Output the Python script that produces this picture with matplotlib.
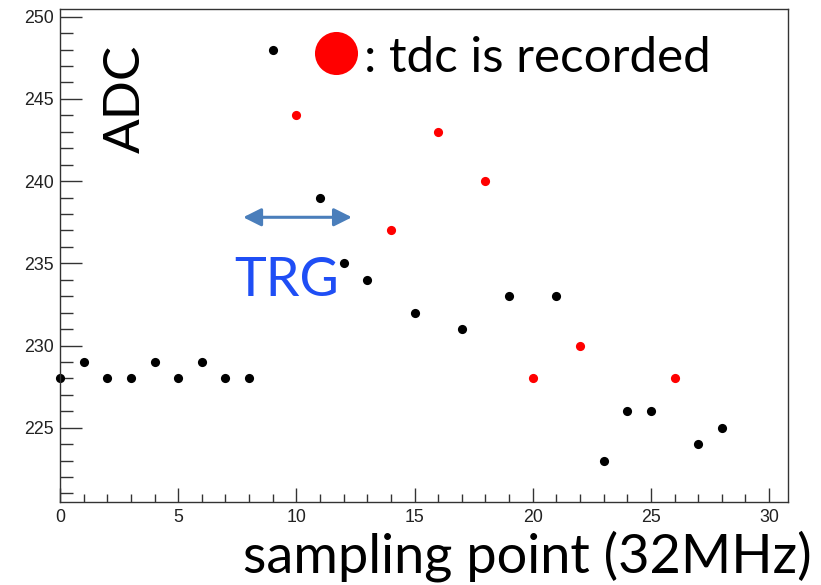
import matplotlib
matplotlib.use("Agg")
import matplotlib.pyplot as plt
from matplotlib.ticker import MultipleLocator

# Data
black_x = [0, 1, 2, 3, 4, 5, 6, 7, 8, 9, 11, 12, 13, 15, 17, 19, 21, 23, 24, 25, 27, 28]
black_y = [228, 229, 228, 228, 229, 228, 229, 228, 228, 248, 239, 235, 234, 232, 231, 233, 233, 223, 226, 226, 224, 225]
red_x = [10, 14, 16, 18, 20, 22, 26]
red_y = [244, 237, 243, 240, 228, 230, 228]
trg_range = [7.75, 12.35]
trg_level = 237.8

W, H = 821, 585
fig = plt.figure(figsize=(W / 100, H / 100), dpi=100)
ax = fig.add_axes([60 / W, 1 - 502 / H, 728 / W, 493 / H])

ax.plot(black_x, black_y, 'o', color='black', markersize=6.6, markeredgewidth=0, clip_on=False)
ax.plot(red_x, red_y, 'o', color='#ff0000', markersize=6.6, markeredgewidth=0, clip_on=False)

ax.set_xlim(0, 30.8)
ax.set_ylim(220.48, 250.47)
ax.xaxis.set_major_locator(MultipleLocator(5))
ax.xaxis.set_minor_locator(MultipleLocator(1))
ax.yaxis.set_major_locator(MultipleLocator(5))
ax.yaxis.set_minor_locator(MultipleLocator(1))

tickfont = 'Liberation Sans'
ax.tick_params(axis='both', which='both', direction='in', color='#333333', width=1)
ax.tick_params(axis='x', which='major', length=10, pad=5, labelsize=12.8)
ax.tick_params(axis='x', which='minor', length=5.5)
ax.tick_params(axis='y', which='major', length=16, pad=4.5, labelsize=12.8)
ax.tick_params(axis='y', which='minor', length=9)
for lab in ax.get_xticklabels() + ax.get_yticklabels():
    lab.set_fontfamily(tickfont)
    lab.set_color('#222222')
for s in ax.spines.values():
    s.set_color('#333333')
    s.set_linewidth(1)

# TRG arrow
ax.annotate('', xy=(trg_range[1], trg_level), xytext=(trg_range[0], trg_level),
            arrowprops=dict(arrowstyle='<|-|>,head_length=0.8,head_width=0.4',
                            mutation_scale=13.5, color='#4a7ebb', lw=2.2,
                            shrinkA=0, shrinkB=0))

txtfont = ['Lato', 'DejaVu Sans']
fig.text(234 / W, 1 - 296 / H, 'TRG', fontsize=38.8, color='#1f4ef5',
         family=txtfont, ha='left', va='baseline')

# Legend-like annotation
ax.plot([0.3785], [0.9098], 'o', color='#ff0000', markersize=31, markeredgewidth=0,
        transform=ax.transAxes, clip_on=False)
fig.text(364 / W, 1 - 72.5 / H, ': tdc is recorded', fontsize=35.5, color='black',
         family=txtfont, ha='left', va='baseline')

fig.text(126 / W, 1 - 99 / H, 'ADC', fontsize=37, color='black', rotation=90,
         family=txtfont, ha='center', va='center')

fig.text(812 / W, 1 - 573 / H, 'sampling point (32MHz)', fontsize=39, color='black',
         family=txtfont, ha='right', va='baseline')

fig.savefig('out.png', dpi=100)
